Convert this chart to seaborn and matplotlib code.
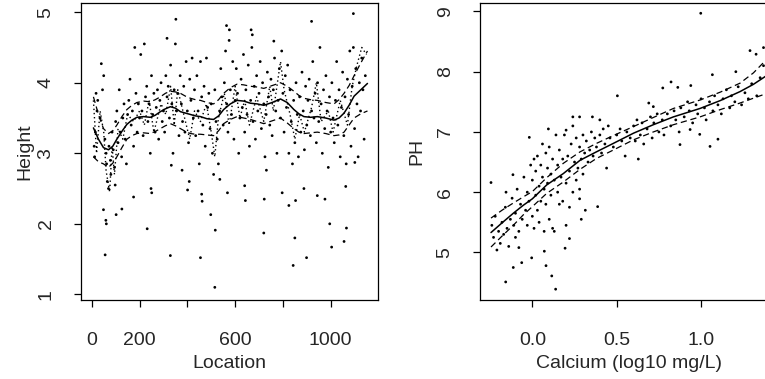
import numpy as np
import pandas as pd
import matplotlib
matplotlib.use("Agg")
import matplotlib.pyplot as plt
import seaborn as sns

# ---------------------------------------------------------------------------
# left panel: Height vs Location
# ---------------------------------------------------------------------------
loc_x = [18, 22, 15, 10, 12, 25, 40, 45, 50, 35, 55, 60, 62, 65, 70, 72, 78, 80, 85, 90,
         95, 100, 98, 105, 110, 115, 120, 125, 130, 135, 140, 145, 150, 155, 160, 165, 170, 175, 180, 185,
         190, 195, 200, 205, 210, 215, 220, 225, 230, 235, 240, 245, 250, 255, 260, 265, 270, 275, 280, 285,
         290, 295, 300, 305, 310, 315, 320, 325, 330, 335, 340, 345, 350, 355, 360, 365, 370, 375, 380, 385,
         390, 395, 400, 405, 410, 415, 420, 425, 430, 435, 440, 445, 450, 455, 460, 465, 470, 475, 480, 485,
         490, 495, 500, 505, 510, 515, 520, 525, 530, 535, 540, 545, 550, 555, 560, 565, 570, 575, 580, 585,
         590, 595, 600, 605, 610, 615, 620, 625, 630, 635, 640, 645, 650, 655, 660, 665, 670, 675, 680, 685,
         690, 695, 700, 705, 710, 715, 720, 725, 730, 735, 740, 745, 750, 755, 760, 765, 770, 775, 780, 785,
         790, 795, 800, 805, 810, 815, 820, 825, 830, 835, 840, 845, 850, 855, 860, 865, 870, 875, 880, 885,
         890, 895, 900, 905, 910, 915, 920, 925, 930, 935, 940, 945, 950, 955, 960, 965, 970, 975, 980, 985,
         990, 995, 1000, 1005, 1010, 1015, 1020, 1025, 1030, 1035, 1040, 1045, 1050, 1055, 1060, 1065, 1070, 1075,
         1080, 1085, 1090, 1095, 1100, 1105, 1110, 1115, 1120, 1125, 1130, 1135, 1140, 1145,
         # scattered low / high values
         56, 59, 61, 49, 102, 126, 175, 232, 248, 251, 329, 315, 333, 352, 378, 401, 408, 455, 460, 462,
         498, 515, 517, 536, 564, 576, 568, 643, 640, 667, 672, 720, 722, 731, 762, 797, 825, 843, 850, 853,
         888, 899, 920, 944, 976, 996, 1004, 1056, 1066, 1063, 1095, 1101]
height = [3.85, 3.6, 3.3, 3.1, 2.95, 3.75, 4.27, 3.9, 4.1, 3.5, 3.2, 3.0, 2.85, 2.6, 2.5, 3.1, 2.9, 2.7, 3.3, 3.05,
          2.8, 3.45, 2.55, 3.6, 3.15, 3.9, 3.3, 2.95, 3.5, 3.7, 3.2, 2.85, 3.55, 3.75, 4.05, 3.4, 3.6, 3.1, 4.5, 3.85,
          3.3, 3.7, 3.5, 4.4, 3.6, 3.25, 4.55, 3.8, 3.95, 3.45, 3.7, 3.0, 4.1, 3.55, 3.85, 3.3, 3.65, 3.9, 3.2, 3.75,
          4.0, 3.45, 3.6, 3.3, 4.1, 3.8, 3.95, 3.5, 4.25, 3.7, 3.0, 3.9, 4.55, 3.6, 3.85, 3.25, 4.1, 3.7, 3.45, 3.95,
          3.3, 4.3, 3.6, 3.15, 4.05, 3.75, 4.35, 3.5, 3.9, 3.25, 4.1, 3.6, 2.85, 4.3, 3.8, 3.4, 3.95, 3.1, 4.35, 3.65,
          3.85, 3.35, 3.7, 3.0, 2.7, 3.9, 3.45, 3.2, 2.85, 3.6, 4.2, 3.8, 3.4, 4.0, 4.45, 3.7, 3.3, 4.6, 3.9, 3.55,
          4.3, 3.2, 3.75, 4.2, 3.85, 3.0, 3.5, 4.05, 3.65, 4.4, 3.3, 3.9, 3.55, 4.25, 3.1, 3.75, 4.5, 3.45, 3.95, 3.2,
          4.1, 3.6, 3.85, 4.3, 3.35, 4.0, 3.7, 2.95, 3.55, 4.15, 3.8, 3.4, 4.05, 3.25, 3.9, 4.35, 3.6, 3.0, 3.75, 4.2,
          3.5, 4.45, 3.85, 3.3, 4.1, 3.65, 4.25, 3.0, 3.9, 3.45, 2.85, 3.75, 3.15, 4.0, 3.55, 2.95, 3.8, 3.3, 4.15, 3.6,
          3.05, 3.95, 3.4, 3.75, 4.05, 3.25, 3.6, 4.3, 3.5, 3.85, 3.15, 4.0, 3.45, 4.5, 3.7, 3.0, 3.9, 3.35, 4.1, 3.6,
          2.8, 3.8, 3.3, 4.0, 3.5, 3.15, 3.75, 4.3, 3.4, 3.9, 2.95, 3.65, 4.15, 3.25, 3.8, 2.85, 4.05, 3.55,
          4.45, 3.1, 3.95, 4.5, 3.35, 4.2, 3.7, 2.95, 4.0, 3.6, 4.35, 3.9, 3.2, 4.1,
          1.56, 2.05, 2.0, 2.2, 2.13, 2.21, 2.38, 1.93, 2.5, 2.44, 1.55, 4.63, 2.83, 4.9, 2.76, 2.48, 2.6, 1.52, 2.42, 2.32,
          2.13, 1.1, 1.91, 2.63, 4.81, 4.75, 2.44, 2.33, 2.54, 4.75, 4.68, 1.87, 2.35, 2.76, 4.59, 2.44, 2.26, 1.41, 1.8, 2.33,
          2.5, 1.52, 4.87, 2.4, 2.35, 2.0, 1.67, 1.75, 1.94, 2.53, 4.98, 2.87]

# smooth fit, its band and the rough fit
fit_x = [7, 28, 49, 70, 88, 105, 126, 147, 168, 189, 217, 245, 266, 287, 308, 329, 350, 371, 392, 413,
         434, 455, 482, 510, 531, 552, 580, 608, 636, 664, 692, 720, 755, 790, 818, 846, 867, 888, 916, 944,
         979, 1014, 1035, 1056, 1077, 1098, 1126, 1154]
fit_y = [3.36, 3.2, 3.08, 3.05, 3.1, 3.2, 3.31, 3.41, 3.47, 3.51, 3.52, 3.51, 3.54, 3.59, 3.63, 3.66, 3.64, 3.59,
         3.57, 3.55, 3.53, 3.52, 3.49, 3.48, 3.53, 3.62, 3.7, 3.75, 3.74, 3.71, 3.7, 3.68, 3.72, 3.77, 3.72, 3.62,
         3.56, 3.52, 3.51, 3.52, 3.5, 3.47, 3.5, 3.57, 3.68, 3.81, 3.9, 3.99]
fit_hi = [3.8, 3.55, 3.35, 3.28, 3.32, 3.4, 3.52, 3.62, 3.68, 3.72, 3.74, 3.73, 3.76, 3.8, 3.85, 3.88, 3.87, 3.85,
          3.81, 3.78, 3.76, 3.75, 3.72, 3.7, 3.76, 3.85, 3.93, 3.98, 3.97, 3.95, 3.94, 3.92, 3.96, 4.0, 3.95, 3.88,
          3.82, 3.78, 3.76, 3.75, 3.72, 3.7, 3.76, 3.85, 3.96, 4.1, 4.28, 4.45]
fit_lo = [2.95, 2.88, 2.85, 2.8, 2.86, 2.95, 3.08, 3.2, 3.25, 3.28, 3.29, 3.28, 3.31, 3.35, 3.39, 3.42, 3.39, 3.35,
          3.31, 3.28, 3.27, 3.27, 3.26, 3.25, 3.32, 3.42, 3.48, 3.52, 3.5, 3.48, 3.45, 3.42, 3.46, 3.5, 3.43, 3.35,
          3.3, 3.28, 3.29, 3.3, 3.28, 3.25, 3.26, 3.3, 3.4, 3.5, 3.56, 3.6]
rough_x = [7, 20, 35, 50, 60, 75, 85, 95, 110, 130, 150, 175, 200, 220, 240, 260, 290, 310, 330, 345,
           360, 385, 410, 430, 455, 480, 500, 515, 530, 555, 575, 600, 620, 640, 660, 690, 720, 745, 760, 790,
           805, 830, 850, 870, 890, 920, 940, 960, 990, 1010, 1040, 1070, 1090, 1110, 1130, 1150]
rough_y = [3.75, 3.0, 3.6, 3.3, 2.75, 2.45, 3.1, 2.7, 3.35, 3.2, 3.55, 3.45, 3.6, 3.4, 3.75, 3.3, 3.7, 3.55, 3.95, 3.4,
           3.9, 3.55, 3.2, 3.6, 3.45, 3.7, 3.3, 2.95, 3.5, 3.85, 3.4, 3.95, 3.5, 3.75, 3.4, 3.8, 3.45, 3.95, 3.6, 4.3,
           3.9, 3.55, 3.2, 3.55, 3.3, 3.65, 4.0, 3.45, 3.6, 3.3, 3.75, 3.4, 3.95, 4.25, 4.5, 4.4]

# ---------------------------------------------------------------------------
# right panel: PH vs Calcium
# ---------------------------------------------------------------------------
calcium = [-0.24, -0.23, -0.22, -0.2, -0.19, -0.18, -0.17, -0.16, -0.15, -0.14, -0.13, -0.12, -0.11, -0.1, -0.1,
           -0.09, -0.08, -0.08, -0.07, -0.06, -0.05, -0.04, -0.03, -0.03, -0.02, -0.01, 0.0, 0.0, 0.01, 0.01,
           0.02, 0.02, 0.03, 0.03, 0.04, 0.04, 0.05, 0.05, 0.06, 0.06, 0.07, 0.07, 0.08, 0.08, 0.09, 0.09,
           0.1, 0.1, 0.11, 0.11, 0.12, 0.12, 0.13, 0.13, 0.14, 0.15, 0.15, 0.16, 0.16, 0.17, 0.18, 0.18,
           0.19, 0.2, 0.2, 0.21, 0.22, 0.22, 0.23, 0.24, 0.24, 0.25, 0.26, 0.26, 0.27, 0.28, 0.28, 0.29,
           0.3, 0.3, 0.31, 0.32, 0.33, 0.34, 0.35, 0.36, 0.37, 0.38, 0.4, 0.41, 0.42, 0.43, 0.44, 0.45,
           0.46, 0.48, 0.5, 0.52, 0.53, 0.55, 0.56, 0.58, 0.6, 0.61, 0.62, 0.64, 0.65, 0.66, 0.68, 0.7,
           0.71, 0.72, 0.74, 0.75, 0.77, 0.78, 0.8, 0.82, 0.84, 0.85, 0.87, 0.88, 0.9, 0.92, 0.93, 0.95,
           0.97, 0.98, 1.0, 1.02, 1.03, 1.05, 1.07, 1.08, 1.1, 1.12, 1.13, 1.15, 1.17, 1.18, 1.2, 1.22,
           1.24, 1.26, 1.28, 1.3, 1.33, 1.35, 1.37,
           # scattered values
           -0.245, -0.21, -0.158, -0.156, -0.113, -0.115, -0.063, -0.018, -0.004, 0.095, 0.081, 0.115, 0.138,
           0.071, 0.194, 0.22, 0.2, 0.24, 0.28, 0.356, 0.4, 0.387, 0.29, 0.314, 0.28, 0.504, 0.69, 0.717,
           0.773, 0.822, 0.862, 0.939, 0.998, 1.067, 1.206, 1.29, 1.326, 1.37, 1.053, 1.1, 0.875, 0.628,
           0.935, 0.992]
ph = [5.45, 5.25, 5.6, 5.35, 5.15, 5.5, 5.3, 5.75, 5.4, 5.1, 5.55, 5.9, 5.45, 5.25, 5.65,
      6.05, 5.35, 5.08, 5.8, 5.55, 6.25, 5.7, 5.45, 6.0, 5.85, 6.45, 5.6, 6.2, 5.4, 6.55,
      5.95, 6.35, 5.7, 6.6, 6.1, 5.5, 6.45, 5.85, 6.25, 6.8, 5.35, 6.05, 6.65, 5.8, 6.4, 6.15,
      6.75, 5.55, 6.3, 5.95, 6.55, 5.4, 6.2, 5.35, 6.95, 6.0, 6.45, 5.8, 6.7, 6.25, 5.85, 6.55,
      6.95, 6.15, 5.45, 6.6, 6.35, 5.75, 6.8, 6.0, 7.1, 6.5, 6.2, 6.9, 6.4, 6.05, 6.75, 6.55,
      6.95, 6.3, 6.65, 6.85, 6.5, 6.7, 7.0, 6.6, 6.9, 6.75, 6.95, 6.65, 7.05, 6.8, 6.4, 7.1,
      6.9, 6.75, 6.95, 7.05, 6.85, 6.6, 7.0, 6.9, 7.1, 6.85, 7.2, 6.95, 7.15, 6.8, 7.05, 7.25,
      6.9, 7.15, 7.3, 7.0, 7.2, 6.95, 7.3, 7.1, 7.35, 7.2, 7.0, 7.4, 7.25, 7.5, 7.35, 7.15,
      7.45, 7.3, 7.55, 7.4, 7.2, 7.5, 7.35, 7.6, 7.45, 7.3, 7.55, 7.7, 7.4, 7.6, 7.5, 7.75,
      7.45, 7.65, 7.55, 7.8, 7.6, 7.9, 8.1,
      6.16, 5.04, 4.51, 6.0, 4.75, 6.29, 4.83, 6.91, 4.91, 7.05, 4.78, 4.61, 4.39,
      5.02, 5.07, 5.23, 7.03, 7.25, 7.25, 7.25, 7.2, 5.76, 5.55, 5.7, 5.89, 7.6, 7.48, 7.42,
      7.73, 7.83, 7.74, 7.77, 8.97, 7.95, 8.0, 8.35, 8.29, 8.4, 6.76, 6.88, 6.79, 6.55,
      7.04, 6.96]

ca_fit_x = [-0.245, -0.18, -0.113, -0.055, 0.0, 0.085, 0.184, 0.283, 0.38, 0.48, 0.6, 0.717, 0.836, 0.994,
            1.113, 1.231, 1.31, 1.38, 1.45]
ca_fit_y = [5.33, 5.49, 5.65, 5.78, 5.89, 6.12, 6.31, 6.53, 6.67, 6.81, 6.98, 7.12, 7.25, 7.39,
            7.52, 7.67, 7.79, 7.92, 8.05]
ca_hi = [5.57, 5.7, 5.82, 5.92, 6.01, 6.24, 6.48, 6.67, 6.81, 6.94, 7.09, 7.24, 7.39, 7.53,
         7.66, 7.81, 7.98, 8.18, 8.35]
ca_lo = [5.09, 5.27, 5.45, 5.62, 5.76, 5.98, 6.17, 6.38, 6.56, 6.7, 6.87, 7.0, 7.12, 7.25,
         7.37, 7.48, 7.56, 7.63, 7.7]

# ---------------------------------------------------------------------------
# plotting
# ---------------------------------------------------------------------------
sns.set_style("ticks")
plt.rcParams["font.family"] = ["Liberation Sans", "DejaVu Sans"]
plt.rcParams["font.size"] = 14

fig = plt.figure(figsize=(7.65, 3.79), dpi=100)
ax1 = fig.add_axes([0.1059, 0.2084, 0.3882, 0.7836])
ax2 = fig.add_axes([0.6275, 0.2084, 0.3882, 0.7836])

DASH = (0, (5, 3))
DOT = (0, (1, 2))

left = pd.DataFrame({"Location": loc_x, "Height": height})
sns.scatterplot(data=left, x="Location", y="Height", ax=ax1, s=4, color="black",
                edgecolor="none", linewidth=0)
sns.lineplot(x=rough_x, y=rough_y, ax=ax1, color="black", lw=1.0, linestyle=DOT,
             sort=False, estimator=None)
sns.lineplot(x=fit_x, y=fit_hi, ax=ax1, color="black", lw=0.9, linestyle=DASH,
             sort=False, estimator=None)
sns.lineplot(x=fit_x, y=fit_lo, ax=ax1, color="black", lw=0.9, linestyle=DASH,
             sort=False, estimator=None)
sns.lineplot(x=fit_x, y=fit_y, ax=ax1, color="black", lw=1.1, sort=False, estimator=None)

ax1.set_xlim(-45, 1198)
ax1.set_ylim(0.92, 5.13)
ax1.set_xticks([0, 200, 400, 600, 800, 1000])
ax1.set_xticklabels(["0", "200", "", "600", "", "1000"])
ax1.set_yticks([1, 2, 3, 4, 5])
ax1.set_xlabel("Location", labelpad=4)
ax1.set_ylabel("Height", labelpad=3)

right = pd.DataFrame({"Calcium": calcium, "PH": ph})
sns.scatterplot(data=right, x="Calcium", y="PH", ax=ax2, s=4, color="black",
                edgecolor="none", linewidth=0)
sns.lineplot(x=ca_fit_x, y=ca_hi, ax=ax2, color="black", lw=0.9, linestyle=DASH,
             sort=False, estimator=None)
sns.lineplot(x=ca_fit_x, y=ca_lo, ax=ax2, color="black", lw=0.9, linestyle=DASH,
             sort=False, estimator=None)
sns.lineplot(x=ca_fit_x, y=ca_fit_y, ax=ax2, color="black", lw=1.1, sort=False, estimator=None)

ax2.set_xlim(-0.31, 1.45)
ax2.set_ylim(4.21, 9.14)
ax2.set_xticks([0.0, 0.5, 1.0])
ax2.set_xticklabels(["0.0", "0.5", "1.0"])
ax2.set_yticks([5, 6, 7, 8, 9])
ax2.set_xlabel("Calcium (log10 mg/L)", labelpad=4)
ax2.set_ylabel("PH", labelpad=8)

for ax in (ax1, ax2):
    for sp in ax.spines.values():
        sp.set_visible(True)
        sp.set_linewidth(0.9)
        sp.set_color("black")
    ax.tick_params(direction="out", length=5, width=0.9, color="black", labelsize=14)
    ax.tick_params(axis="x", pad=18)
    ax.tick_params(axis="y", pad=14, labelrotation=90)
    for lab in ax.get_yticklabels():
        lab.set_verticalalignment("center")
    ax.grid(False)

fig.savefig("out.png", dpi=100)
